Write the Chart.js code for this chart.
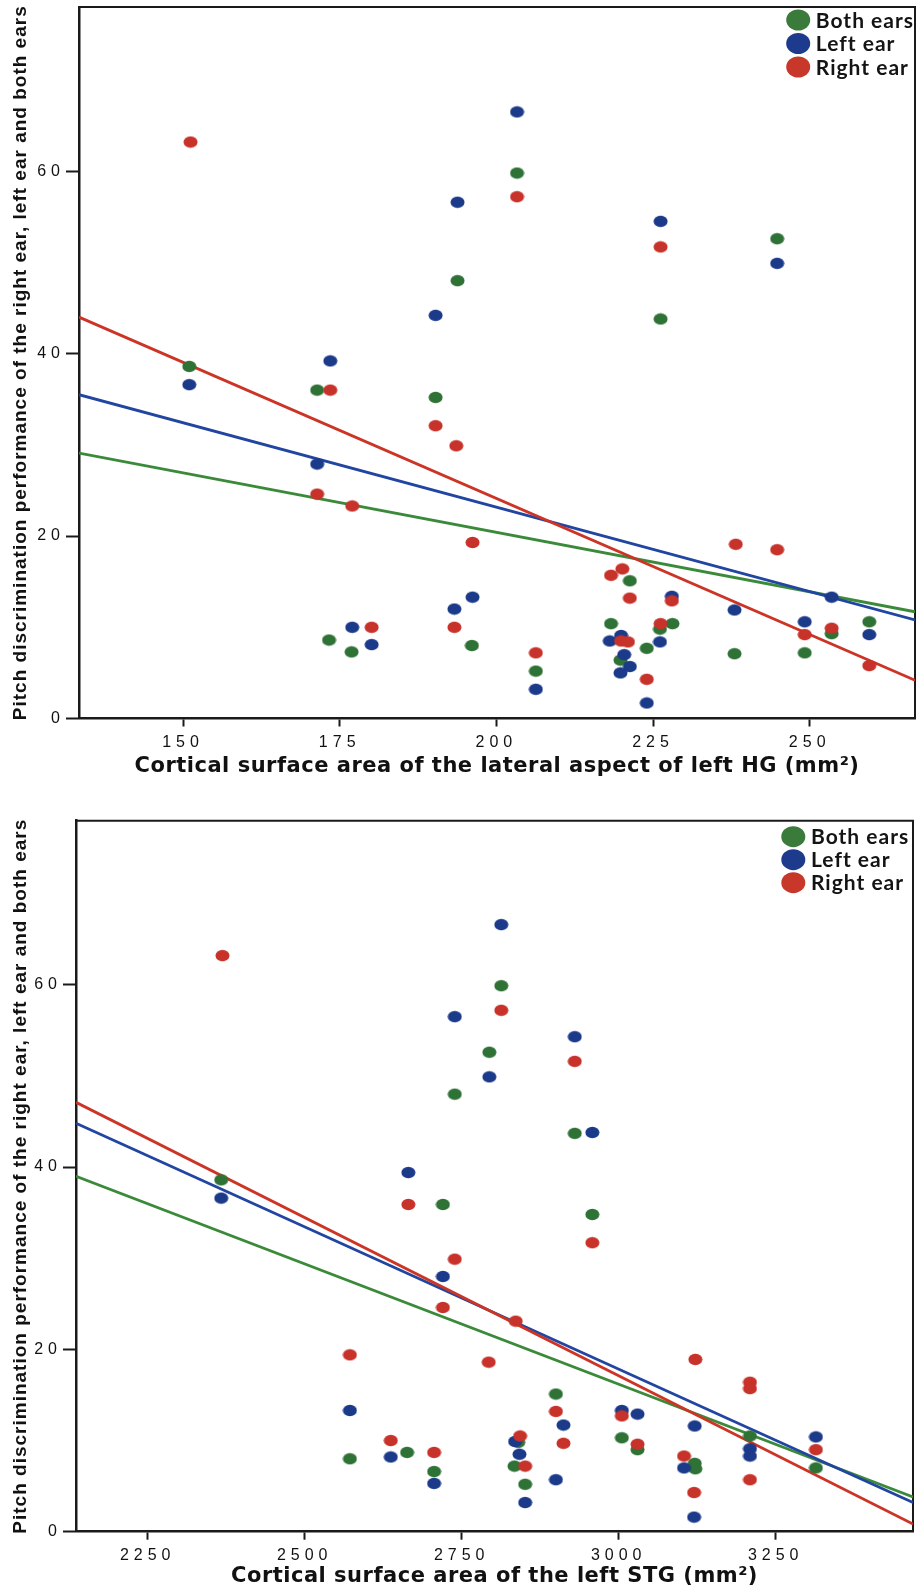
<!DOCTYPE html>
<html>
<head>
<meta charset="utf-8">
<script src="https://cdn.jsdelivr.net/npm/chart.js@4/dist/chart.umd.min.js"></script>
<style>
html,body{margin:0;padding:0;background:#fff;}
body{width:922px;height:1591px;position:relative;overflow:hidden;}
.wrap{position:absolute;left:0;width:922px;}
#w1{top:0;height:790px;}
#w2{top:790px;height:801px;}
canvas{display:block;}
</style>
</head>
<body>
<div class="wrap" id="w1"><canvas id="c1"></canvas></div>
<div class="wrap" id="w2"><canvas id="c2"></canvas></div>
<script>
// ---------- data ----------
const seriesLabels = ['Both ears', 'Left ear', 'Right ear'];
const yTicks = [0, 20, 40, 60];
const yRange = [0, 78];
const yTitle = 'Pitch discrimination performance of the right ear, left ear and both ears';

// Chart 1: lateral aspect of left HG
const hgTitle = 'Cortical surface area of the lateral aspect of left HG (mm\u00B2)';
const hgTicks = [150, 175, 200, 225, 250];
const hgRange = [133.4, 266.8];
const hgBothX  = [151.0,171.4,173.3,176.9,190.3,193.8,196.1,203.3,206.3,218.3,219.8,221.3,224.0,226.1,226.2,228.1,238.0,244.8,249.2,253.5,259.5];
const hgBothY  = [38.6,36.0,8.6,7.3,35.2,48.0,8.0,59.8,5.2,10.4,6.4,15.1,7.7,9.8,43.8,10.4,7.1,52.6,7.2,9.3,10.6];
const hgLeftX  = [151.0,171.4,173.5,177.0,180.1,190.3,193.3,193.8,196.2,203.3,206.3,218.1,219.9,220.4,221.3,219.8,224.0,226.1,226.2,228.0,238.0,244.8,249.2,253.5,259.5];
const hgLeftY  = [36.6,27.9,39.2,10.0,8.1,44.2,12.0,56.6,13.3,66.5,3.2,8.5,9.1,7.0,5.7,5.0,1.7,8.4,54.5,13.4,11.9,49.9,10.6,13.3,9.2];
const hgRightX = [151.2,171.4,173.5,177.0,180.1,190.3,193.6,193.3,196.2,203.3,206.3,218.3,220.1,221.3,219.9,221.0,224.0,226.2,226.2,228.0,238.2,244.8,249.2,253.5,259.5];
const hgRightY = [63.2,24.6,36.0,23.3,10.0,32.1,29.9,10.0,19.3,57.2,7.2,15.7,16.4,13.2,8.5,8.4,4.3,10.4,51.7,12.9,19.1,18.5,9.2,9.9,5.8];
const hgFitX     = [133.4, 266.8];
const hgFitBoth  = [29.1, 11.7];
const hgFitLeft  = [35.5, 10.8];
const hgFitRight = [44.0, 4.2];

// Chart 2: left STG
const stgTitle = 'Cortical surface area of the left STG (mm\u00B2)';
const stgTicks = [2250, 2500, 2750, 3000, 3250];
const stgRange = [2135.8, 3468.6];
const stgBothX  = [2367,2572,2663,2706,2720,2739,2794,2813,2834,2840,2851,2900,2930,2958,3005,3030,3121,3122,3209,3314];
const stgBothY  = [38.6,8.0,8.7,6.6,35.9,48.0,52.6,59.9,7.2,9.8,5.2,15.1,43.7,34.8,10.3,9.0,7.5,6.9,10.5,7.0];
const stgLeftX  = [2367,2572,2637,2665,2706,2720,2739,2794,2813,2835,2842,2851,2900,2912,2930,2958,3005,3030,3104,3121,3120,3209,3209,3314];
const stgLeftY  = [36.6,13.3,8.2,39.4,5.3,28.0,56.5,49.9,66.6,9.9,8.5,3.2,5.7,11.7,54.3,43.8,13.3,12.9,7.0,11.6,1.6,9.1,8.3,10.4];
const stgRightX = [2369,2572,2637,2665,2706,2720,2739,2793,2813,2836,2843,2851,2900,2912,2930,2958,3005,3030,3104,3122,3120,3209,3209,3209,3314];
const stgRightY = [63.2,19.4,10.0,35.9,8.7,24.6,29.9,18.6,57.2,23.1,10.5,7.2,13.2,9.7,51.6,31.7,12.7,9.6,8.3,18.9,4.3,16.4,15.7,5.7,9.0];
const stgFitX     = [2135.8, 3468.6];
const stgFitBoth  = [39.0, 3.8];
const stgFitLeft  = [44.8, 3.2];
const stgFitRight = [47.1, 0.85];

// ---------- styles ----------
const dotColors  = {both:'#2f7236', left:'#1c3a8a', right:'#c7322a'};
const lineColors = {both:'#3a8a3a', left:'#2145a0', right:'#cc3526'};
const legendColors = ['#3a7a3a', '#1e3a8c', '#c8382a'];

function marker(color){
  const c = document.createElement('canvas');
  c.width = 15; c.height = 13;
  const g = c.getContext('2d');
  g.fillStyle = color;
  g.beginPath(); g.ellipse(7.5, 6.5, 7, 5.8, 0, 0, Math.PI*2); g.fill();
  return c;
}
const markers = {both:marker(dotColors.both), left:marker(dotColors.left), right:marker(dotColors.right)};

function pts(xs, ys){ return xs.map((x,i)=>({x:x, y:ys[i]})); }

const spacingPlugin = {
  id:'spacing',
  beforeDraw(chart, args, opts){
    ['x','y'].forEach(id=>{
      const s = chart.scales[id];
      if (!s || s.__sp) return;
      s.__sp = true;
      const oL = s.drawLabels, oT = s.drawTitle;
      const tSp = id === 'x' ? opts.xTitle : opts.yTitle;
      s.drawLabels = function(a){ const c=this.ctx; c.save(); c.letterSpacing = opts.ticks; oL.call(this,a); c.restore(); };
      s.drawTitle = function(){ const c=this.ctx; c.save(); c.letterSpacing = tSp; oT.call(this); c.restore(); };
    });
  }
};

const framePlugin = {
  id:'frame',
  beforeDatasetsDraw(chart){
    const {ctx, chartArea:a} = chart;
    ctx.save();
    ctx.strokeStyle = '#1a1a1a'; ctx.lineWidth = 2;
    ctx.beginPath(); ctx.moveTo(a.left, a.top); ctx.lineTo(a.right, a.top); ctx.lineTo(a.right, a.bottom); ctx.stroke();
    ctx.restore();
  }
};

const legendPlugin = {
  id:'dotLegend',
  afterDatasetsDraw(chart, args, opts){
    const {ctx, chartArea:a} = chart;
    const items = chart.data.datasets.filter(d=>d.legendRank !== undefined).sort((p,q)=>p.legendRank-q.legendRank);
    ctx.save();
    items.forEach((d,i)=>{
      const cx = a.right - opts.dx, cy = a.top + opts.y0 + i*opts.dy;
      ctx.fillStyle = d.legendColor;
      ctx.beginPath(); ctx.ellipse(cx, cy, 12, 10.5, 0, 0, Math.PI*2); ctx.fill();
      ctx.fillStyle = '#141414';
      ctx.font = 'bold 21px Lato';
      ctx.textBaseline = 'middle'; ctx.textAlign = 'left';
      ctx.letterSpacing = '1px';
      ctx.fillText(d.label, cx + opts.tx, cy + 1);
    });
    ctx.restore();
  }
};

function makeChart(id, c){
  const ds = [
    {label:seriesLabels[2], legendRank:2, legendColor:legendColors[2], data:pts(c.rightX,c.rightY), pointStyle:markers.right, pointRadius:6, order:1},
    {label:seriesLabels[1], legendRank:1, legendColor:legendColors[1], data:pts(c.leftX,c.leftY), pointStyle:markers.left, pointRadius:6, order:2},
    {label:seriesLabels[0], legendRank:0, legendColor:legendColors[0], data:pts(c.bothX,c.bothY), pointStyle:markers.both, pointRadius:6, order:3},
    {label:'fit right', data:pts(c.fitX,c.fitRight), showLine:true, pointRadius:0, borderColor:lineColors.right, borderWidth:2.8, order:4},
    {label:'fit left', data:pts(c.fitX,c.fitLeft), showLine:true, pointRadius:0, borderColor:lineColors.left, borderWidth:2.8, order:5},
    {label:'fit both', data:pts(c.fitX,c.fitBoth), showLine:true, pointRadius:0, borderColor:lineColors.both, borderWidth:2.8, order:6}
  ];
  return new Chart(document.getElementById(id), {
    type:'scatter',
    data:{datasets:ds},
    options:{
      responsive:true, maintainAspectRatio:false, animation:false,
      layout:{padding:c.pad},
      plugins:{
        legend:{display:false}, tooltip:{enabled:false},
        spacing:{ticks:'5px', xTitle:'0.5px', yTitle:'1px'},
        dotLegend:c.legend
      },
      scales:{
        x:{
          type:'linear', min:c.range[0], max:c.range[1],
          afterBuildTicks:a=>{ a.ticks = c.ticks.map(v=>({value:v})); },
          afterFit:a=>{ a.height = c.xAxisH; a.paddingLeft = 0; a.paddingRight = 0; },
          grid:{drawOnChartArea:false, drawTicks:true, tickLength:8, tickWidth:2, tickColor:'#1a1a1a'},
          border:{display:true, color:'#1a1a1a', width:2.5},
          ticks:{font:{family:'Liberation Sans', size:16}, color:'#111', padding:6, maxRotation:0, autoSkip:false, callback:v=>String(v)},
          title:{display:true, text:c.title, color:'#111', font:{family:'DejaVu Sans', size:21, weight:'bold'}, padding:{top:0, bottom:c.xTitlePad}}
        },
        y:{
          type:'linear', min:yRange[0], max:yRange[1],
          afterBuildTicks:a=>{ a.ticks = yTicks.map(v=>({value:v})); },
          afterFit:a=>{ a.width = c.yAxisW; a.paddingTop = 0; a.paddingBottom = 0; },
          grid:{drawOnChartArea:false, drawTicks:true, tickLength:13, tickWidth:2, tickColor:'#1a1a1a'},
          border:{display:true, color:'#1a1a1a', width:2.5},
          ticks:{font:{family:'Liberation Sans', size:16}, color:'#111', padding:1, callback:v=>String(v)},
          title:{display:true, text:yTitle, color:'#111', font:{family:'Liberation Sans', size:19, weight:'bold'}, padding:{top:9, bottom:0}}
        }
      }
    },
    plugins:[spacingPlugin, framePlugin, legendPlugin]
  });
}

makeChart('c1', {
  bothX:hgBothX, bothY:hgBothY, leftX:hgLeftX, leftY:hgLeftY, rightX:hgRightX, rightY:hgRightY,
  fitX:hgFitX, fitBoth:hgFitBoth, fitLeft:hgFitLeft, fitRight:hgFitRight,
  ticks:hgTicks, range:hgRange, title:hgTitle,
  pad:{top:7, right:3.5, left:0, bottom:0}, xAxisH:71.5, yAxisW:79, xTitlePad:10.5,
  legend:{dx:116.8, y0:13, dy:23.5, tx:17.6}
});
makeChart('c2', {
  bothX:stgBothX, bothY:stgBothY, leftX:stgLeftX, leftY:stgLeftY, rightX:stgRightX, rightY:stgRightY,
  fitX:stgFitX, fitBoth:stgFitBoth, fitLeft:stgFitLeft, fitRight:stgFitRight,
  ticks:stgTicks, range:stgRange, title:stgTitle,
  pad:{top:30.7, right:9, left:0, bottom:0}, xAxisH:59.3, yAxisW:76, xTitlePad:1.6,
  legend:{dx:119.7, y0:16, dy:23, tx:17.7}
});
</script>
</body>
</html>
